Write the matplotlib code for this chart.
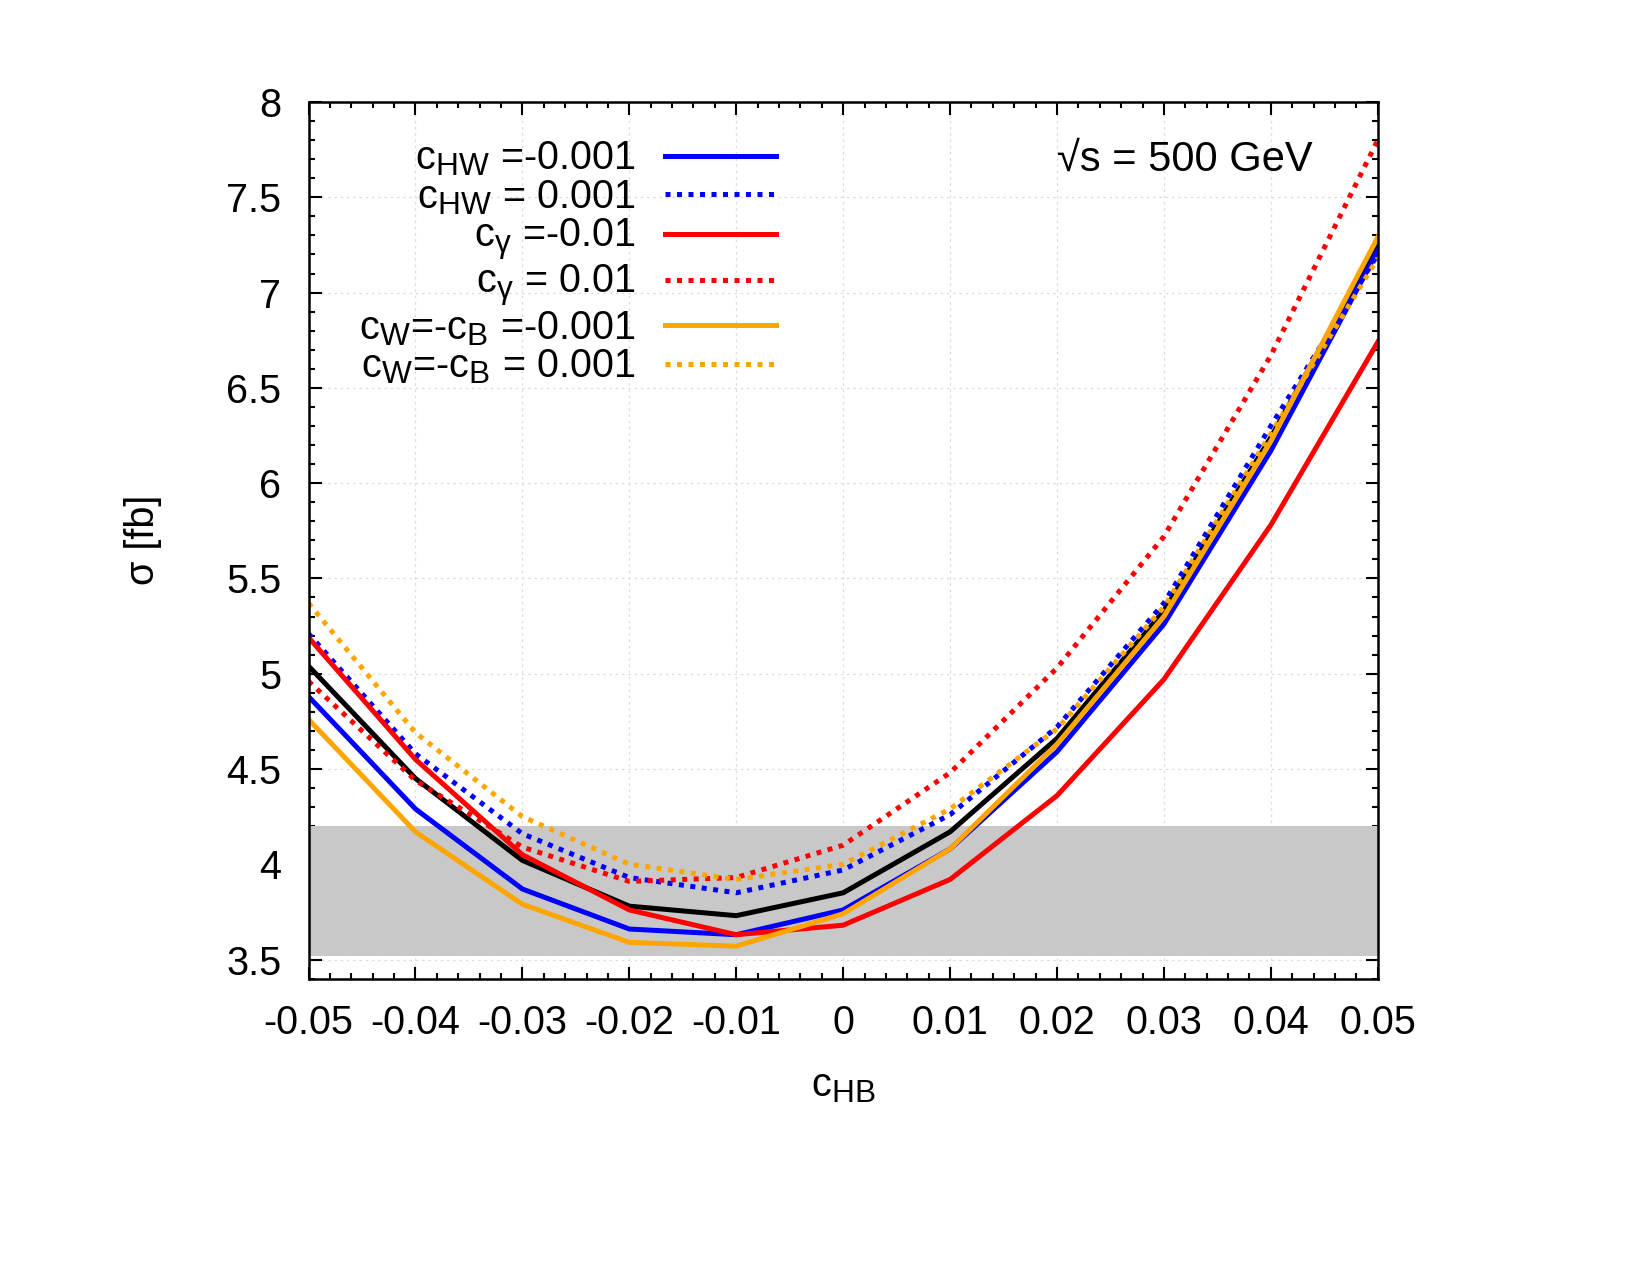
import matplotlib
matplotlib.use("Agg")
import matplotlib.pyplot as plt
import matplotlib._mathtext as mt
from matplotlib.ticker import MultipleLocator, FixedLocator

plt.rcParams['font.family'] = ['Liberation Sans', 'DejaVu Sans']
plt.rcParams['mathtext.fontset'] = 'custom'
plt.rcParams['mathtext.rm'] = 'Liberation Sans'
plt.rcParams['mathtext.it'] = 'Liberation Sans'
plt.rcParams['mathtext.bf'] = 'Liberation Sans:bold'
mt.SHRINK_FACTOR = 0.8  # gnuplot-like bigger subscripts

# c_HB scan points
c_hb = [-0.05, -0.04, -0.03, -0.02, -0.01, 0.0, 0.01, 0.02, 0.03, 0.04, 0.05]

# cross sections [fb]
sigma_sm = [5.04, 4.45, 4.02, 3.78, 3.73, 3.85, 4.17, 4.66, 5.33, 6.24, 7.25]
sigma_chw_m = [4.88, 4.29, 3.87, 3.66, 3.63, 3.76, 4.08, 4.59, 5.26, 6.17, 7.22]
sigma_chw_p = [5.21, 4.58, 4.16, 3.93, 3.85, 3.97, 4.26, 4.72, 5.37, 6.30, 7.20]
sigma_cg_m = [5.19, 4.55, 4.05, 3.76, 3.63, 3.68, 3.92, 4.36, 4.97, 5.78, 6.74]
sigma_cg_p = [4.96, 4.44, 4.09, 3.91, 3.93, 4.10, 4.48, 5.03, 5.72, 6.67, 7.80]
sigma_cwb_m = [4.76, 4.17, 3.79, 3.59, 3.57, 3.74, 4.08, 4.63, 5.30, 6.22, 7.29]
sigma_cwb_p = [5.37, 4.69, 4.25, 4.00, 3.92, 4.00, 4.29, 4.71, 5.35, 6.26, 7.18]

band = (3.52, 4.2)

labels = [r'$\mathrm{c}_{\mathrm{HW}}$ =-0.001',
          r'$\mathrm{c}_{\mathrm{HW}}$ = 0.001',
          r'$\mathrm{c}_{\gamma}$ =-0.01',
          r'$\mathrm{c}_{\gamma}$ = 0.01',
          r'$\mathrm{c}_{\mathrm{W}}$=-$\mathrm{c}_{\mathrm{B}}$ =-0.001',
          r'$\mathrm{c}_{\mathrm{W}}$=-$\mathrm{c}_{\mathrm{B}}$ = 0.001']

fig = plt.figure(figsize=(11, 8.5), dpi=150)
ax = fig.add_axes([0.187, 0.2325, 0.648, 0.6875])

ax.set_axisbelow(True)
ax.grid(True, which='major', color='#dcdcdc', linestyle=(0, (2, 3)), linewidth=0.6)
ax.axhspan(band[0], band[1], color='#c8c8c8', lw=0, zorder=1)

lw = 2.4
dot = (0, (1, 1.3))
ax.plot(c_hb, sigma_sm, color='black', lw=lw)
ax.plot(c_hb, sigma_chw_m, color='#0000ff', lw=lw, label=labels[0])
ax.plot(c_hb, sigma_chw_p, color='#0000ff', lw=lw, ls=dot, dash_capstyle='butt', label=labels[1])
ax.plot(c_hb, sigma_cg_m, color='#ff0000', lw=lw, label=labels[2])
ax.plot(c_hb, sigma_cg_p, color='#ff0000', lw=lw, ls=dot, dash_capstyle='butt', label=labels[3])
ax.plot(c_hb, sigma_cwb_m, color='#ffa500', lw=lw, label=labels[4])
ax.plot(c_hb, sigma_cwb_p, color='#ffa500', lw=lw, ls=dot, dash_capstyle='butt', label=labels[5])

ax.set_xlim(-0.05, 0.05)
ax.set_ylim(3.4, 8)
ax.xaxis.set_major_locator(FixedLocator(c_hb))
ax.xaxis.set_minor_locator(MultipleLocator(0.002))
ax.yaxis.set_minor_locator(MultipleLocator(0.1))
ax.set_xticklabels(['-0.05', '-0.04', '-0.03', '-0.02', '-0.01', '0',
                    '0.01', '0.02', '0.03', '0.04', '0.05'])
ax.set_yticks([3.5, 4, 4.5, 5, 5.5, 6, 6.5, 7, 7.5, 8])
ax.set_yticklabels(['3.5', '4', '4.5', '5', '5.5', '6', '6.5', '7', '7.5', '8'])

ax.tick_params(which='both', direction='in', top=True, right=True, width=1.0)
ax.tick_params(which='major', length=6, labelsize=19)
ax.tick_params(which='minor', length=3)
ax.tick_params(axis='x', pad=12)
ax.tick_params(axis='y', pad=13)
for s in ax.spines.values():
    s.set_linewidth(1.2)

ax.set_xlabel(r'$\mathrm{c}_{\mathrm{HB}}$', fontsize=19, labelpad=12)
ax.set_ylabel('σ [fb]', fontsize=19, labelpad=31)

ax.text(0.939, 0.934, '√s = 500 GeV', transform=ax.transAxes,
        ha='right', va='center', fontsize=20)

ax.legend(loc='upper right', bbox_to_anchor=(0.437, 0.957), frameon=False,
          markerfirst=False, fontsize=19, handlelength=2.8, handletextpad=0.75,
          labelspacing=0.0, borderpad=0, borderaxespad=0)

fig.savefig('out.png', dpi=150)
